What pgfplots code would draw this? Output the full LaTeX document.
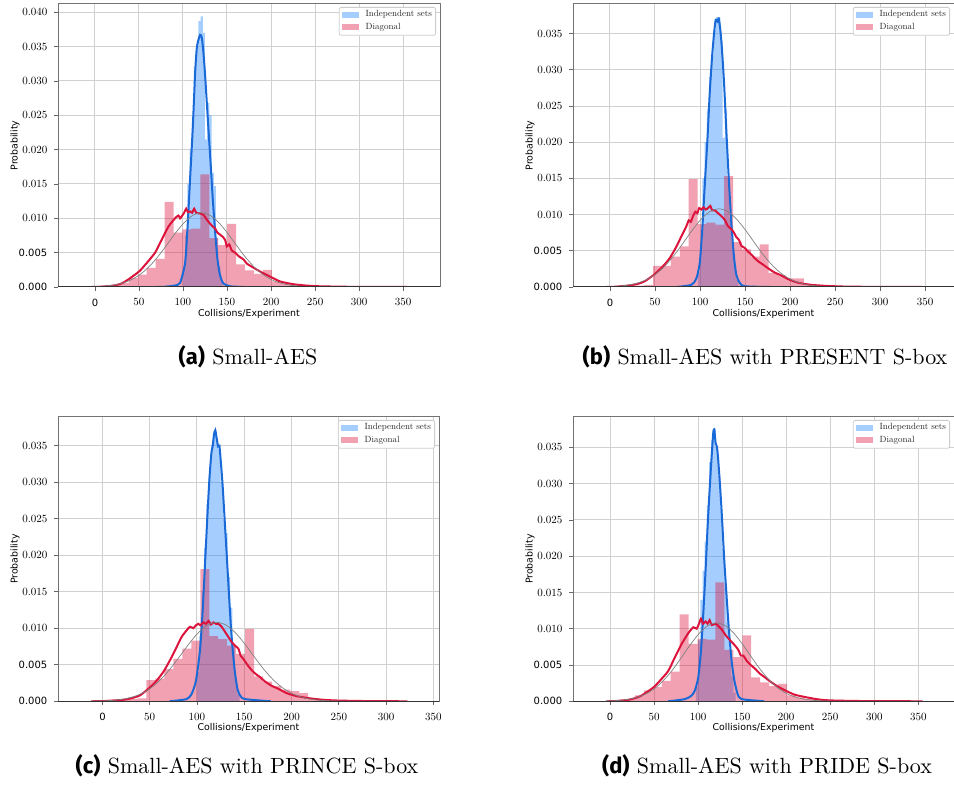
\documentclass[border=0pt]{standalone}
\usepackage{fontspec}
\setmainfont{lmroman10-regular.otf}[BoldFont=lmroman10-bold.otf, ItalicFont=lmroman10-italic.otf]
\usepackage{pgfplots}
\pgfplotsset{compat=1.18}
\newfontfamily\dvs{DejaVu Sans}
\newfontfamily\capsf{Fira Sans}

\definecolor{crim}{RGB}{220,20,60}
\definecolor{histblue}{RGB}{30,130,250}
\definecolor{kdeblue}{RGB}{25,105,215}
\definecolor{legblue}{RGB}{165,205,253}
\definecolor{legpink}{RGB}{241,161,177}
\definecolor{gridc}{RGB}{208,208,208}

\newcommand{\sz}[1]{\fontsize{#1}{#1}\selectfont}

\pgfplotsset{
  panel/.style={
    scale only axis,
    anchor=south west,
    ymin=0,
    axis line style={draw=black!55, line width=0.5pt},
    grid=major,
    grid style={draw=gridc, line width=0.5pt},
    tick pos=left,
    tick align=outside,
    major tick length=1.8pt,
    tick style={draw=black!60, line width=0.4pt},
    scaled y ticks=false,
    xtick={0,50,...,350},
    xticklabels={\mbox{\dvs\sz{5}0},50,100,150,200,250,300,350},
    tick label style={font=\sz{5.5}},
    xticklabel style={yshift=-0.5pt},
    xlabel={\dvs Collisions/Experiment},
    ylabel={\dvs Probability},
    label style={font=\sz{4.7}},
    xlabel style={at={(axis description cs:0.5,-0.095)}, anchor=center},
    ylabel style={at={(axis description cs:-0.1125,0.5)}, anchor=center},
    legend image code/.code={\fill[##1, draw=none, sharp corners] (0pt,-1.5pt) rectangle (8.8pt,1.5pt);},
    legend style={at={(1,1)}, anchor=north east, xshift=-2pt, yshift=-1.5pt,
      draw=black!20, rounded corners=1pt, fill=white,
      font=\sz{4.5}, inner xsep=1.2pt, inner ysep=1pt, row sep=0.3pt,
      nodes={inner sep=0.6pt}, text=black!85,
      /tikz/every odd column/.append style={column sep=2.6pt}},
    legend cell align=left,
  },
  hb/.style={const plot, fill=histblue, fill opacity=0.4, draw=none, forget plot},
  hp/.style={const plot, fill=crim, fill opacity=0.4, draw=none, forget plot},
  kb/.style={smooth, tension=0.4, kdeblue, line width=1pt, forget plot},
  kr/.style={smooth, tension=0.4, crim, line width=1pt, forget plot},
  kg/.style={smooth, black!50, line width=0.35pt, forget plot},
  bottomspine/.style={execute at end axis={\draw[black!80, line width=0.6pt] (rel axis cs:0,0) -- (rel axis cs:1,0);}},
}

\begin{document}
\begin{tikzpicture}
\path[use as bounding box] (0,0) rectangle (477pt,392.5pt);

% ---------------- (a) Small-AES ----------------
\begin{axis}[panel, bottomspine, at={(29pt,249pt)}, width=191pt, height=141.5pt,
  xmin=-42, xmax=392, ymax=0.0412,
  ytick={0,0.005,0.01,0.015,0.02,0.025,0.03,0.035,0.04},
  yticklabels={\mbox{\dvs\sz{5}0.000},\mbox{\dvs\sz{5}0.005},0.010,0.015,0.020,0.025,0.030,0.035,0.040}]
\addplot[hb] coordinates {(100,0.0025) (102.5,0.0075) (105,0.0150) (107.5,0.0200) (110,0.0250) (112.5,0.0320) (115,0.0350) (117.5,0.0387) (120,0.0394) (122.5,0.0370) (125,0.0215) (127.5,0.0268) (130,0.0250) (132.5,0.0166) (135,0.0147) (137.5,0.0071) (140,0.0030) (142.5,0.0010) (145,0)} \closedcycle;
\addplot[hp] coordinates {(-2.1,0.00005) (8.05,0.0001) (18.2,0.0003) (28.35,0.0006) (38.5,0.0013) (48.65,0.0018) (58.8,0.0028) (68.95,0.0041) (79.1,0.0124) (89.25,0.0079) (99.4,0.0084) (109.55,0.0085) (119.7,0.0164) (129.85,0.0071) (140,0.0061) (150.15,0.0092) (160.3,0.0033) (170.45,0.0024) (180.6,0.0019) (190.75,0.0025) (200.9,0.0008) (211.05,0.0005) (221.2,0.0003) (231.35,0.0002) (241.5,0.0001) (251.65,0.00005) (261.8,0)} \closedcycle;
\addplot[kb] coordinates {(70,0) (77.8,0.00002) (90,0.0002) (96.7,0.0006) (102.4,0.0035) (105,0.0083) (108,0.0156) (111.2,0.0234) (113.8,0.0312) (115.7,0.0348) (117.6,0.0360) (119.5,0.0367) (121.4,0.0363) (123.3,0.0340) (125.2,0.0307) (127.8,0.0253) (130.9,0.0190) (133.9,0.0127) (136.6,0.0079) (139.2,0.0040) (142.3,0.0016) (146,0.0005) (153.6,0.0001) (170,0)};
\addplot[kr] coordinates {(-4,0) (5,0.00003) (20.9,0.0002) (30,0.0005) (37.9,0.0011) (50.5,0.0023) (58.8,0.0035) (68.3,0.0050) (75.9,0.0069) (83.5,0.0088) (91,0.0100) (94.8,0.0104) (96.7,0.0100) (98.6,0.0103) (101.3,0.0108) (103.6,0.0114) (105.5,0.0109) (108.1,0.0110) (110.4,0.0108) (112.7,0.0114) (115,0.0108) (119.5,0.0107) (123.3,0.0105) (127.1,0.0098) (130.9,0.0092) (133.9,0.0088) (136.6,0.0085) (139.2,0.0079) (142.3,0.0076) (145.3,0.0073) (148,0.0068) (149.8,0.0059) (152.5,0.0062) (155.5,0.0053) (159.3,0.0050) (163.1,0.0045) (168.8,0.0040) (172.6,0.0034) (180.2,0.0028) (189.7,0.0021) (199.2,0.0015) (210.5,0.0008) (225.7,0.0004) (240.9,0.0002) (256,0.0001) (290,0.00003) (355,0)};
\addplot[kg] coordinates {(-5,0.00005) (1,0.000056) (11,0.00013) (21,0.00028) (31,0.00056) (41,0.00104) (51,0.0018) (61,0.0029) (71,0.00433) (81,0.00602) (91,0.00777) (101,0.00933) (111,0.01041) (121,0.0108) (131,0.01041) (141,0.00933) (151,0.00777) (161,0.00602) (171,0.00433) (181,0.0029) (191,0.0018) (201,0.00104) (211,0.00056) (221,0.00028) (231,0.00013) (241,0.000056) (261,0.000008) (300,0) (355,0)};
\addlegendimage{fill=legblue}\addlegendentry{Independent sets}
\addlegendimage{fill=legpink}\addlegendentry{Diagonal}
\end{axis}

% ---------------- (b) PRESENT ----------------
\begin{axis}[panel, bottomspine, at={(286.5pt,249pt)}, width=190.5pt, height=141.5pt,
  xmin=-41, xmax=382, ymax=0.0391,
  ytick={0,0.005,0.01,0.015,0.02,0.025,0.03,0.035},
  yticklabels={\mbox{\dvs\sz{5}0.000},\mbox{\dvs\sz{5}0.005},0.010,0.015,0.020,0.025,0.030,0.035}]
\addplot[hb] coordinates {(97.5,0.002) (100,0.006) (102.5,0.015) (105,0.020) (107.5,0.0245) (110,0.029) (112.5,0.032) (115,0.0355) (117.5,0.0373) (120,0.0373) (122.5,0.034) (125,0.0206) (127.5,0.0245) (130,0.015) (132.5,0.0095) (135,0.0062) (137.5,0.003) (140,0.001) (142.5,0)} \closedcycle;
\addplot[hp] coordinates {(-1.25,0.00005) (8.6,0.0001) (18.45,0.0002) (28.3,0.0002) (38.15,0.0003) (48,0.0029) (57.85,0.0029) (67.7,0.0042) (77.55,0.0056) (87.4,0.0149) (97.25,0.0087) (107.1,0.0089) (116.95,0.0086) (126.8,0.0153) (136.65,0.0062) (146.5,0.0052) (156.35,0.0042) (166.2,0.0059) (176.05,0.0019) (185.9,0.0016) (195.75,0.0012) (205.6,0.0012) (215.45,0.0004) (225.3,0.0002) (235.15,0.0001) (245,0.00005) (254.85,0)} \closedcycle;
\addplot[kb] coordinates {(74,0) (90.5,0.0003) (96,0.0012) (99.7,0.0033) (102.3,0.0075) (105.2,0.0139) (108.2,0.0203) (110.8,0.0268) (113.4,0.0318) (115.6,0.0350) (117.4,0.0369) (119.3,0.0367) (120.8,0.0371) (122.6,0.0355) (124.4,0.0328) (126.7,0.0282) (129.2,0.0217) (131.8,0.0153) (134.8,0.0088) (137.7,0.0042) (140.3,0.0017) (144,0.0006) (149.6,0.0001) (178,0)};
\addplot[kr] coordinates {(-4,0) (5,0.00003) (20.3,0.0002) (30,0.0004) (38.8,0.0008) (49.9,0.0018) (59.1,0.0029) (66.5,0.0040) (73.9,0.0056) (80.1,0.0072) (84.9,0.0084) (87.5,0.0092) (89.7,0.0090) (92.3,0.0098) (94.9,0.0104) (97.1,0.0102) (99,0.0109) (101.6,0.0107) (103.8,0.0110) (106.4,0.0107) (108.9,0.0109) (111.5,0.0112) (113.4,0.0106) (116.3,0.0106) (120,0.0102) (123.7,0.0098) (127.4,0.0093) (131.1,0.0084) (134.8,0.0080) (137.7,0.0075) (140.3,0.0069) (143.3,0.0065) (145.9,0.0057) (149.6,0.0054) (153.2,0.0049) (156.9,0.0045) (160.6,0.0040) (165.1,0.0035) (169.9,0.0031) (175.4,0.0026) (182.8,0.0020) (190.2,0.0016) (197.6,0.0011) (208.6,0.0006) (223.4,0.0003) (241.9,0.00014) (270,0.00004) (347,0)};
\addplot[kg] coordinates {(-5,0.00005) (1,0.000056) (11,0.00013) (21,0.00028) (31,0.00056) (41,0.00104) (51,0.0018) (61,0.0029) (71,0.00433) (81,0.00602) (91,0.00777) (101,0.00933) (111,0.01041) (121,0.0108) (131,0.01041) (141,0.00933) (151,0.00777) (161,0.00602) (171,0.00433) (181,0.0029) (191,0.0018) (201,0.00104) (211,0.00056) (221,0.00028) (231,0.00013) (241,0.000056) (261,0.000008) (300,0) (347,0)};
\addlegendimage{fill=legblue}\addlegendentry{Independent sets}
\addlegendimage{fill=legpink}\addlegendentry{Diagonal}
\end{axis}

% ---------------- (c) PRINCE ----------------
\begin{axis}[panel, bottomspine, at={(29pt,41.85pt)}, width=190.5pt, height=142.15pt,
  xmin=-47, xmax=356, ymax=0.0389,
  ytick={0,0.005,0.01,0.015,0.02,0.025,0.03,0.035},
  yticklabels={\mbox{\dvs\sz{5}0.000},\mbox{\dvs\sz{5}0.005},0.010,0.015,0.020,0.025,0.030,0.035}]
\addplot[hb] coordinates {(100,0.004) (102.5,0.009) (105,0.015) (107.5,0.021) (110,0.027) (112.5,0.031) (115,0.035) (117.5,0.037) (120,0.036) (122.5,0.0345) (125,0.030) (127.5,0.025) (130,0.023) (132.5,0.017) (135,0.0128) (137.5,0.0075) (140,0.003) (142.5,0.001) (145,0)} \closedcycle;
\addplot[hp] coordinates {(-10.5,0.00003) (-1,0.00005) (8.5,0.0001) (18,0.0002) (27.5,0.0003) (37,0.0004) (46.5,0.0029) (56,0.0031) (65.5,0.0044) (75,0.0058) (84.5,0.0072) (94,0.0083) (103.5,0.0181) (113,0.0089) (122.5,0.0085) (132,0.0076) (141.5,0.0065) (151,0.0099) (160.5,0.0034) (170,0.0027) (179.5,0.0021) (189,0.0016) (198.5,0.0014) (208,0.0011) (217.5,0.0004) (227,0.0002) (236.5,0.0001) (246,0.00005) (255.5,0)} \closedcycle;
\addplot[kb] coordinates {(71,0) (89,0.0003) (94.3,0.0010) (98.9,0.0028) (103.2,0.0070) (106,0.0124) (108.5,0.0188) (111,0.0253) (113.1,0.0303) (115.2,0.0339) (116.6,0.0349) (118,0.0365) (119.4,0.0371) (120.8,0.0360) (122.3,0.0349) (123.7,0.0350) (125.1,0.0330) (127.2,0.0294) (129.3,0.0248) (131.4,0.0202) (133.6,0.0152) (135.7,0.0106) (137.8,0.0070) (140.3,0.0038) (142.8,0.0017) (145.6,0.0008) (150.9,0.0003) (178,0)};
\addplot[kr] coordinates {(-12,0) (0,0.00003) (10,0.0001) (21.9,0.0002) (30,0.0004) (39.6,0.0008) (50.2,0.0019) (57.2,0.0028) (64.3,0.0040) (71.4,0.0056) (78.4,0.0074) (83.7,0.0088) (89,0.0097) (92.6,0.0102) (96.1,0.0100) (98.9,0.0104) (101.4,0.0106) (103.9,0.0104) (106.7,0.0108) (109.5,0.0106) (112.4,0.0110) (114.8,0.0105) (117.3,0.0108) (120.1,0.0106) (122.6,0.0106) (126.1,0.0102) (129.7,0.0095) (133.2,0.0088) (136.7,0.0081) (140.3,0.0076) (143.8,0.0072) (146.3,0.0062) (149.1,0.0058) (152.7,0.0051) (156.9,0.0044) (161.5,0.0038) (166.8,0.0033) (172.1,0.0027) (179.2,0.0021) (186.2,0.0017) (195.1,0.0011) (205.7,0.0007) (219.8,0.0004) (233.9,0.0002) (250,0.0001) (280,0.00003) (322.5,0)};
\addplot[kg] coordinates {(-12,0.00003) (1,0.000056) (11,0.00013) (21,0.00028) (31,0.00056) (41,0.00104) (51,0.0018) (61,0.0029) (71,0.00433) (81,0.00602) (91,0.00777) (101,0.00933) (111,0.01041) (121,0.0108) (131,0.01041) (141,0.00933) (151,0.00777) (161,0.00602) (171,0.00433) (181,0.0029) (191,0.0018) (201,0.00104) (211,0.00056) (221,0.00028) (231,0.00013) (241,0.000056) (261,0.000008) (300,0) (322.5,0)};
\addlegendimage{fill=legblue}\addlegendentry{Independent sets}
\addlegendimage{fill=legpink}\addlegendentry{Diagonal}
\end{axis}

% ---------------- (d) PRIDE ----------------
\begin{axis}[panel, bottomspine, at={(286.5pt,41.85pt)}, width=190.5pt, height=142.15pt,
  xmin=-42, xmax=390.5, ymax=0.0392,
  ytick={0,0.005,0.01,0.015,0.02,0.025,0.03,0.035},
  yticklabels={\mbox{\dvs\sz{5}0.000},\mbox{\dvs\sz{5}0.005},0.010,0.015,0.020,0.025,0.030,0.035}]
\addplot[hb] coordinates {(97.5,0.002) (100,0.0084) (102.5,0.014) (105,0.018) (107.5,0.022) (110,0.027) (112.5,0.033) (115,0.036) (117.5,0.0375) (120,0.035) (122.5,0.031) (125,0.0265) (127.5,0.021) (130,0.0158) (132.5,0.011) (135,0.0072) (137.5,0.0035) (140,0.0012) (142.5,0)} \closedcycle;
\addplot[hp] coordinates {(-2.1,0.00005) (8.05,0.0001) (18.2,0.0003) (28.35,0.0008) (38.5,0.0015) (48.65,0.0020) (58.8,0.0028) (68.95,0.0041) (79.1,0.0120) (89.25,0.0079) (99.4,0.0086) (109.55,0.0085) (119.7,0.0164) (129.85,0.0071) (140,0.0061) (150.15,0.0091) (160.3,0.0033) (170.45,0.0026) (180.6,0.0021) (190.75,0.0024) (200.9,0.0008) (211.05,0.0005) (221.2,0.0003) (231.35,0.0002) (241.5,0.0001) (251.65,0.00005) (261.8,0)} \closedcycle;
\addplot[kb] coordinates {(66,0) (85.1,0.0003) (92.7,0.0008) (96.4,0.0015) (100.2,0.0033) (103.3,0.0070) (105.9,0.0121) (108.5,0.0181) (110.8,0.0241) (113.1,0.0292) (115.4,0.0338) (117.2,0.0370) (118.4,0.0375) (119.9,0.0356) (121.4,0.0351) (122.9,0.0332) (125.2,0.0292) (127.5,0.0245) (129.7,0.0195) (132.4,0.0144) (135,0.0098) (138,0.0056) (141.1,0.0029) (144.9,0.0010) (149.4,0.0003) (175,0)};
\addplot[kr] coordinates {(-4,0) (5,0.00003) (20.8,0.0002) (30,0.0005) (35.9,0.0008) (49.2,0.0019) (58.6,0.0031) (66.2,0.0042) (73.8,0.0061) (81.3,0.0079) (88.9,0.0094) (94.6,0.0102) (98.3,0.0100) (101,0.0107) (103.3,0.0114) (105.5,0.0107) (108.5,0.0110) (110.8,0.0107) (113.1,0.0112) (115.4,0.0105) (119.9,0.0107) (123.7,0.0103) (127.5,0.0098) (131.3,0.0091) (135,0.0086) (138,0.0082) (141.8,0.0077) (145.6,0.0071) (148.6,0.0063) (151.3,0.0063) (155.1,0.0056) (158.9,0.0051) (164.6,0.0045) (170.2,0.0038) (175.9,0.0033) (183.4,0.0026) (191,0.0020) (200.5,0.0014) (209.9,0.0009) (225,0.0005) (240.2,0.0002) (256,0.0001) (290,0.00003) (355,0)};
\addplot[kg] coordinates {(-5,0.00005) (1,0.000056) (11,0.00013) (21,0.00028) (31,0.00056) (41,0.00104) (51,0.0018) (61,0.0029) (71,0.00433) (81,0.00602) (91,0.00777) (101,0.00933) (111,0.01041) (121,0.0108) (131,0.01041) (141,0.00933) (151,0.00777) (161,0.00602) (171,0.00433) (181,0.0029) (191,0.0018) (201,0.00104) (211,0.00056) (221,0.00028) (231,0.00013) (241,0.000056) (261,0.000008) (300,0) (355,0)};
\addlegendimage{fill=legblue}\addlegendentry{Independent sets}
\addlegendimage{fill=legpink}\addlegendentry{Diagonal}
\end{axis}

% captions
\node[anchor=base, font=\sz{11}] at (124pt,210pt) {{\capsf\bfseries (a)} Small-AES};
\node[anchor=base, font=\sz{11}] at (382.5pt,210pt) {{\capsf\bfseries (b)} Small-AES with PRESENT S-box};
\node[anchor=base, font=\sz{11}] at (123.5pt,5.5pt) {{\capsf\bfseries (c)} Small-AES with PRINCE S-box};
\node[anchor=base, font=\sz{11}] at (383.5pt,5.5pt) {{\capsf\bfseries (d)} Small-AES with PRIDE S-box};
\end{tikzpicture}
\end{document}
